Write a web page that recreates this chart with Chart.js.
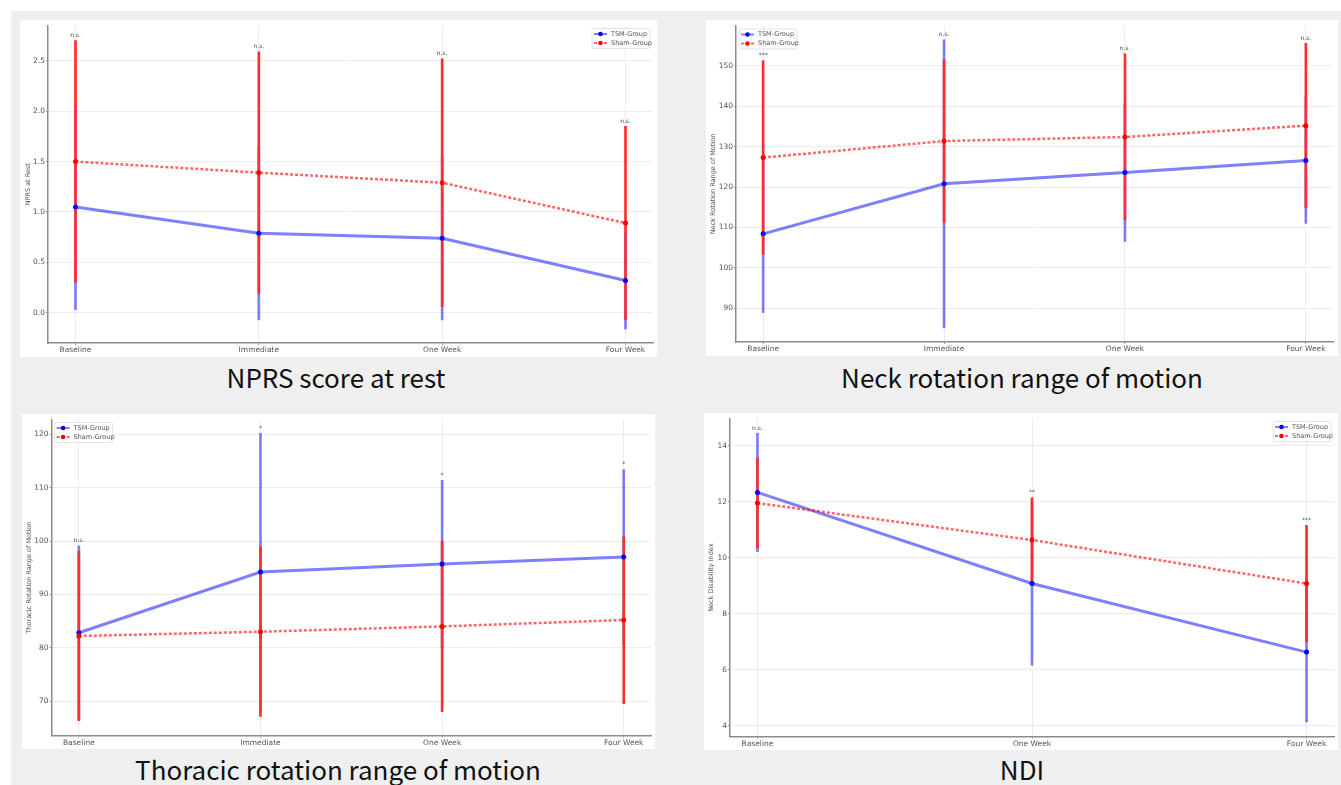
<!DOCTYPE html>
<html>
<head>
<meta charset="utf-8">
<script src="https://cdn.jsdelivr.net/npm/chart.js@4.4.1/dist/chart.umd.min.js"></script>
<style>
html,body{margin:0;padding:0;background:#fff;}
#sheet{position:absolute;left:11px;top:11px;width:1330px;height:774px;background:#efefef;}
.panel{position:absolute;background:#fff;}
.panel canvas{display:block;}
.caption{position:absolute;width:600px;text-align:center;font-family:"Noto Sans CJK JP","Noto Sans",sans-serif;font-size:26px;line-height:30px;color:#111;}
</style>
</head>
<body>
<div id="sheet"></div>

<script>
// ================= DATA =================
const cats4 = ["Baseline", "Immediate", "One Week", "Four Week"];
const cats3 = ["Baseline", "One Week", "Four Week"];

// NPRS at rest
const nprsTsmMean  = [1.05, 0.79, 0.74, 0.32];
const nprsTsmSd    = [1.02, 0.86, 0.81, 0.48];
const nprsShamMean = [1.50, 1.39, 1.29, 0.89];
const nprsShamSd   = [1.20, 1.20, 1.23, 0.96];
const nprsSig      = ["n.s.", "n.s.", "n.s.", "n.s."];
const nprsTicks    = [0, 0.5, 1.0, 1.5, 2.0, 2.5];

// Neck rotation ROM
const neckTsmMean  = [108.4, 120.8, 123.6, 126.6];
const neckTsmSd    = [19.5, 35.7, 17.1, 15.6];
const neckShamMean = [127.3, 131.4, 132.4, 135.2];
const neckShamSd   = [24.0, 20.2, 20.6, 20.4];
const neckSig      = ["***", "n.s.", "n.s.", "n.s."];
const neckTicks    = [90, 100, 110, 120, 130, 140, 150];

// Thoracic rotation ROM
const thorTsmMean  = [82.8, 94.2, 95.7, 97.0];
const thorTsmSd    = [16.3, 26.0, 15.7, 16.4];
const thorShamMean = [82.2, 83.0, 84.0, 85.2];
const thorShamSd   = [15.9, 15.9, 16.0, 15.7];
const thorSig      = ["n.s.", "*", "*", "*"];
const thorTicks    = [70, 80, 90, 100, 110, 120];

// NDI
const ndiTsmMean  = [12.33, 9.08, 6.63];
const ndiTsmSd    = [2.11, 2.92, 2.49];
const ndiShamMean = [11.95, 10.63, 9.08];
const ndiShamSd   = [1.61, 1.51, 2.08];
const ndiSig      = ["n.s.", "**", "***"];
const ndiTicks    = [4, 6, 8, 10, 12, 14];

// ================= PANELS =================
const panels = [
  {id:"nprs", cats:cats4, tsm:[nprsTsmMean,nprsTsmSd], sham:[nprsShamMean,nprsShamSd], sig:nprsSig, ticks:nprsTicks, dec:1,
   ymin:-0.30, ymax:2.85, ytitle:"NPRS at Rest", caption:"NPRS score at rest", legend:"right",
   box:[20,20,637,337], pad:{left:4,top:5,right:4,bottom:0}, yw:24, xh:14, cap:[336,377]},
  {id:"neck", cats:cats4, tsm:[neckTsmMean,neckTsmSd], sham:[neckShamMean,neckShamSd], sig:neckSig, ticks:neckTicks, dec:0,
   ymin:81.6, ymax:159.9, ytitle:"Neck Rotation Range of Motion", caption:"Neck rotation range of motion", legend:"left",
   box:[706,20,632,336], pad:{left:3,top:6,right:5,bottom:0}, yw:27, xh:14, cap:[1022,377]},
  {id:"thor", cats:cats4, tsm:[thorTsmMean,thorTsmSd], sham:[thorShamMean,thorShamSd], sig:thorSig, ticks:thorTicks, dec:0,
   ymin:63.5, ymax:122.8, ytitle:"Thoracic Rotation Range of Motion", caption:"Thoracic rotation range of motion", legend:"left",
   box:[22,414,633,335], pad:{left:3,top:5,right:4,bottom:0}, yw:26.6, xh:13.3, cap:[338,769]},
  {id:"ndi", cats:cats3, tsm:[ndiTsmMean,ndiTsmSd], sham:[ndiShamMean,ndiShamSd], sig:ndiSig, ticks:ndiTicks, dec:0,
   ymin:3.61, ymax:14.97, ytitle:"Neck Disability Index", caption:"NDI", legend:"right",
   box:[704,413,634,337], pad:{left:3,top:4,right:2.5,bottom:0}, yw:23, xh:13.3, cap:[1022,769]}
];

const TICK_FONT = {family:"DejaVu Sans", size:7.5};
const SMALL_FONT = "6.5px 'DejaVu Sans'";

// ================= PLUGINS =================
// significance labels above the highest error bar
const sigText = {
  id:"sigText",
  afterDatasetsDraw(chart, args, opts){
    const {ctx} = chart, xs = chart.scales.x, ys = chart.scales.y;
    const bars = chart.data.datasets.filter(d => d.type === "bar");
    ctx.save();
    ctx.font = "6px 'DejaVu Sans'";
    ctx.fillStyle = "#444";
    ctx.textAlign = "center";
    ctx.textBaseline = "bottom";
    opts.labels.forEach((t, i) => {
      const top = Math.max(...bars.map(b => b.data[i].y[1]));
      ctx.fillText(t, xs.getPixelForValue(i), ys.getPixelForValue(top) - 2);
    });
    ctx.restore();
  }
};

// matplotlib-like legend box inside the plot
const legendBox = {
  id:"legendBox",
  afterDatasetsDraw(chart, args, opts){
    const {ctx, chartArea:a} = chart;
    const items = chart.data.datasets.filter(d => d.type === "line");
    const w = 58, h = 20;
    const x = opts.side === "right" ? a.right - w - 3 : a.left + 3;
    const y = a.top + 3;
    ctx.save();
    ctx.fillStyle = "rgba(255,255,255,0.9)";
    ctx.strokeStyle = "#dcdcdc";
    ctx.lineWidth = 0.8;
    ctx.beginPath();
    ctx.roundRect(x, y, w, h, 2);
    ctx.fill(); ctx.stroke();
    ctx.font = SMALL_FONT;
    ctx.textBaseline = "middle";
    items.forEach((d, i) => {
      const cy = y + 5.5 + i * 9;
      ctx.strokeStyle = d.borderColor;
      ctx.lineWidth = 2;
      ctx.setLineDash(d.borderDash || []);
      ctx.beginPath(); ctx.moveTo(x + 2, cy); ctx.lineTo(x + 15, cy); ctx.stroke();
      ctx.setLineDash([]);
      ctx.fillStyle = d.pointBackgroundColor;
      ctx.beginPath(); ctx.arc(x + 8.5, cy, 2.3, 0, Math.PI * 2); ctx.fill();
      ctx.fillStyle = "#555";
      ctx.fillText(d.label, x + 19, cy);
    });
    ctx.restore();
  }
};

// ================= CHARTS =================
function errBars(mean, sd, color, order){
  return {type:"bar", data:mean.map((m, i) => ({x:i, y:[m - sd[i], m + sd[i]]})),
          backgroundColor:color, barThickness:2, grouped:false, order:order};
}

function meanLine(label, mean, color, dot, width, dash, order){
  return {type:"line", label:label, data:mean.map((m, i) => ({x:i, y:m})),
          borderColor:color, borderWidth:width, borderDash:dash, tension:0,
          pointRadius:2.5, pointBackgroundColor:dot, pointBorderWidth:0, order:order};
}

function drawPanel(p){
  const [l, t, w, h] = p.box;
  const div = document.createElement("div");
  div.className = "panel";
  div.style.left = l + "px"; div.style.top = t + "px";
  div.style.width = w + "px"; div.style.height = h + "px";
  const cv = document.createElement("canvas");
  cv.width = w; cv.height = h;
  div.appendChild(cv);
  document.body.appendChild(div);

  const cap = document.createElement("div");
  cap.className = "caption";
  cap.textContent = p.caption;
  cap.style.left = (p.cap[0] - 300) + "px";
  cap.style.top = (p.cap[1] - 15) + "px";
  document.body.appendChild(cap);

  const n = p.cats.length;
  new Chart(cv, {
    type:"line",
    data:{datasets:[
      errBars(p.tsm[0], p.tsm[1], "rgba(40,40,255,0.6)", 4),
      errBars(p.sham[0], p.sham[1], "rgb(255,45,45)", 3),
      meanLine("TSM-Group", p.tsm[0], "rgba(0,0,255,0.5)", "#0000ff", 3, [], 2),
      meanLine("Sham-Group", p.sham[0], "rgba(255,0,0,0.6)", "#ff0000", 2.5, [3, 2], 1)
    ]},
    options:{
      responsive:false, animation:false, devicePixelRatio:1, events:[],
      layout:{padding:p.pad},
      plugins:{legend:{display:false}, tooltip:{enabled:false},
               sigText:{labels:p.sig}, legendBox:{side:p.legend}},
      scales:{
        x:{type:"linear", min:-0.05 * (n - 1), max:(n - 1) * 1.05, offset:false,
           afterBuildTicks:s => { s.ticks = p.cats.map((c, i) => ({value:i})); },
           afterFit:s => { s.height = p.xh; },
           ticks:{callback:v => p.cats[v], font:TICK_FONT, color:"#555", padding:1, autoSkip:false, maxRotation:0},
           grid:{offset:false, color:"#ececec", tickLength:2, tickColor:"#999"},
           border:{color:"#8c8c8c", width:1.5}},
        y:{min:p.ymin, max:p.ymax, beginAtZero:false,
           afterBuildTicks:s => { s.ticks = p.ticks.map(v => ({value:v})); },
           afterFit:s => { s.width = p.yw; },
           ticks:{callback:v => v.toFixed(p.dec), font:TICK_FONT, color:"#555", padding:1},
           grid:{color:"#ececec", tickLength:2, tickColor:"#999"},
           border:{color:"#8c8c8c", width:1.5},
           title:{display:true, text:p.ytitle, font:{family:"DejaVu Sans", size:6.5}, color:"#555", padding:{top:0, bottom:0}}}
      }
    },
    plugins:[sigText, legendBox]
  });
}

panels.forEach(drawPanel);
</script>
</body>
</html>
